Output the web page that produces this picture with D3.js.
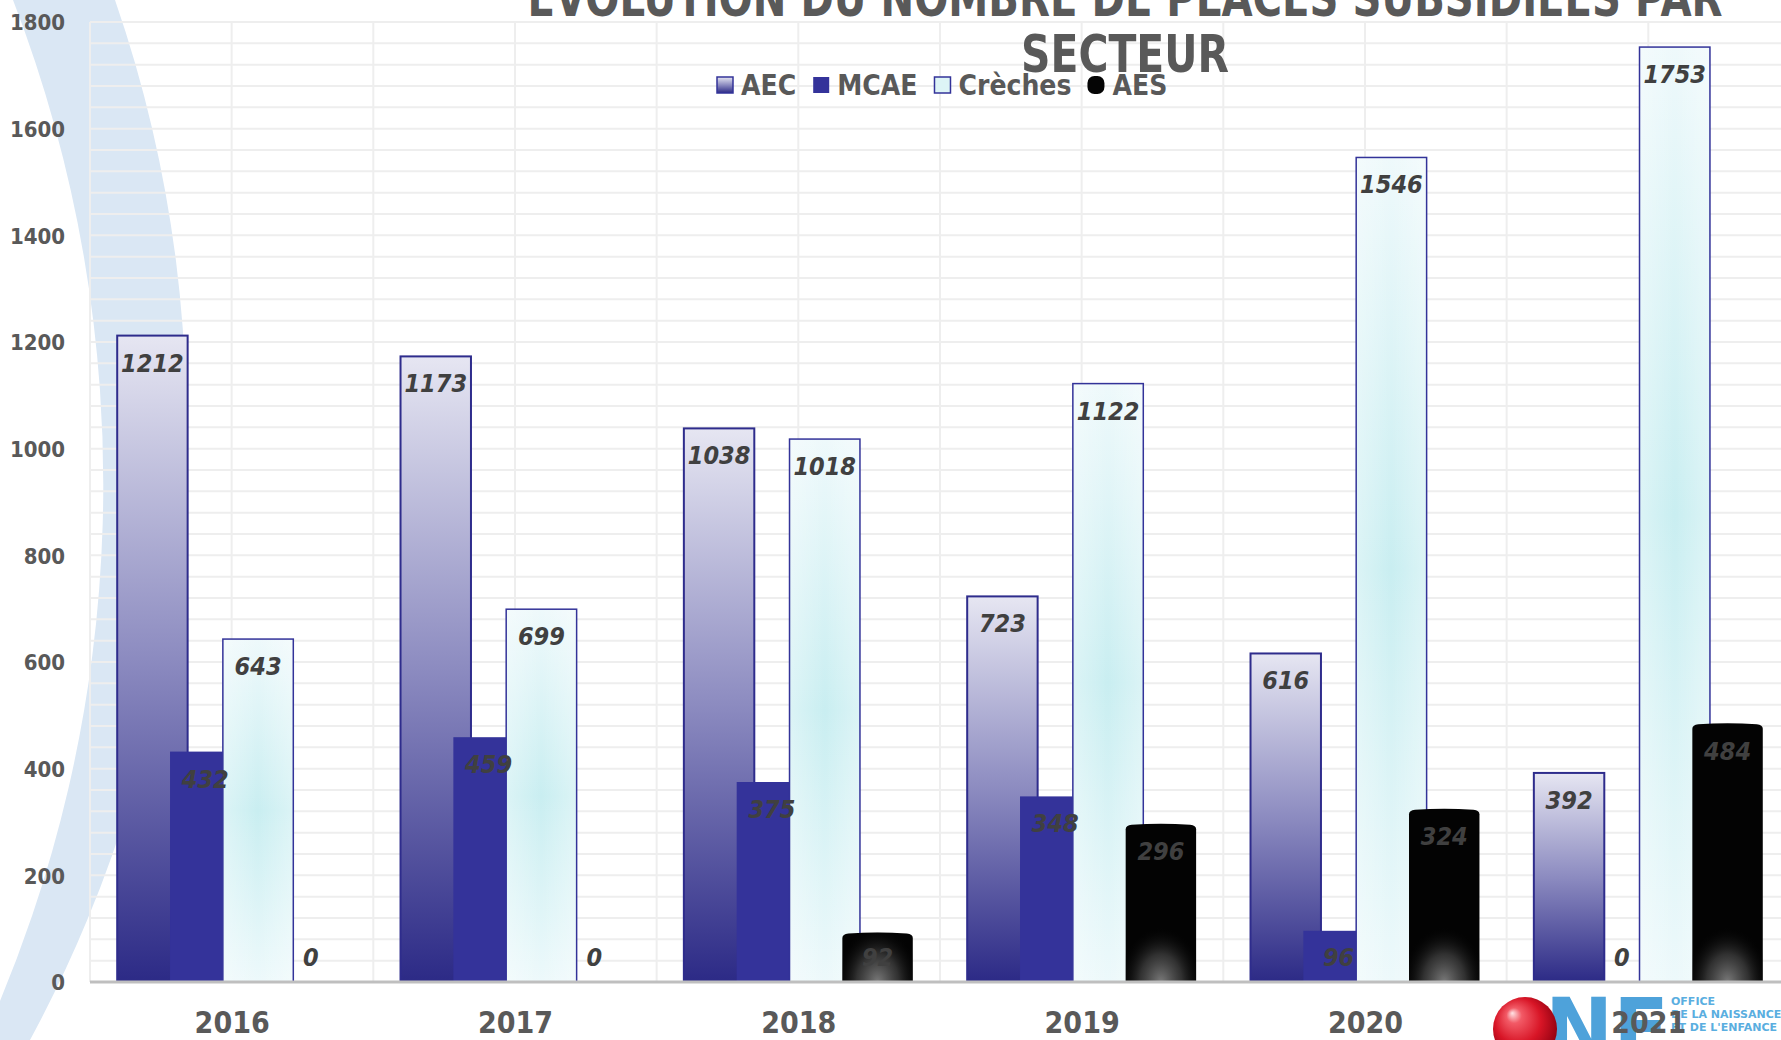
<!DOCTYPE html>
<html lang="fr">
<head>
    <meta charset="UTF-8">
    <title>Évolution du nombre de places subsidiées par secteur</title>
    <style>
        html, body {
            margin: 0;
            padding: 0;
            background-color: #ffffff;
            overflow: hidden;
        }
        svg { display: block; }
        .cond {
            font-family: "DejaVu Sans Condensed", "DejaVu Sans", sans-serif;
            font-stretch: condensed;
        }
    </style>
</head>
<body>
    <div id="chart"></div>
    <script src="https://d3js.org/d3.v7.min.js"></script>
    <script>
        // DATA
        const years = ["2016", "2017", "2018", "2019", "2020", "2021"];
        const aec = [1212, 1173, 1038, 723, 616, 392];
        const mcae = [432, 459, 375, 348, 96, 0];
        const creches = [643, 699, 1018, 1122, 1546, 1753];
        const aes = [0, 0, 92, 296, 324, 484];
        const seriesNames = ["AEC", "MCAE", "Crèches", "AES"];
        const yTicks = [0, 200, 400, 600, 800, 1000, 1200, 1400, 1600, 1800];
        const titleLines = ["ÉVOLUTION DU NOMBRE DE PLACES SUBSIDIÉES PAR", "SECTEUR"];
        const logoLines = ["OFFICE", "DE LA NAISSANCE", "ET DE L'ENFANCE"];

        const width = 1781, height = 1040;
        const plotLeft = 90, plotTop = 22, baseY = 982;
        const catW = 283.33;
        const textCol = "#595959";
        const labelCol = "#404040";

        const svg = d3.select("#chart")
            .append("svg")
            .attr("width", width)
            .attr("height", height);

        const defs = svg.append("defs");

        const aecGrad = defs.append("linearGradient")
            .attr("id", "aecGrad")
            .attr("x1", 0).attr("y1", 0).attr("x2", 0).attr("y2", 1);
        aecGrad.append("stop").attr("offset", 0).attr("stop-color", "#e6e6f2");
        aecGrad.append("stop").attr("offset", 0.5).attr("stop-color", "#8c8bc0");
        aecGrad.append("stop").attr("offset", 1).attr("stop-color", "#2c2a86");

        const crGrad = defs.append("linearGradient")
            .attr("id", "crGrad")
            .attr("x1", 0).attr("y1", 0).attr("x2", 0).attr("y2", 1);
        crGrad.append("stop").attr("offset", 0).attr("stop-color", "#eef9fb");
        crGrad.append("stop").attr("offset", 0.5).attr("stop-color", "#c9eef1");
        crGrad.append("stop").attr("offset", 1).attr("stop-color", "#edf9fb");

        const crSide = defs.append("linearGradient")
            .attr("id", "crSide")
            .attr("x1", 0).attr("y1", 0).attr("x2", 1).attr("y2", 0);
        crSide.append("stop").attr("offset", 0).attr("stop-color", "#ffffff").attr("stop-opacity", 0.35);
        crSide.append("stop").attr("offset", 0.5).attr("stop-color", "#ffffff").attr("stop-opacity", 0);
        crSide.append("stop").attr("offset", 1).attr("stop-color", "#ffffff").attr("stop-opacity", 0.35);

        const glow = defs.append("radialGradient").attr("id", "aesGlow");
        glow.append("stop").attr("offset", 0).attr("stop-color", "#7a7a7a").attr("stop-opacity", 1);
        glow.append("stop").attr("offset", 0.5).attr("stop-color", "#3c3c3c").attr("stop-opacity", 0.8);
        glow.append("stop").attr("offset", 1).attr("stop-color", "#000000").attr("stop-opacity", 0);

        const ball = defs.append("radialGradient")
            .attr("id", "ballGrad")
            .attr("cx", 0.45).attr("cy", 0.45).attr("r", 0.6)
            .attr("fx", 0.3).attr("fy", 0.25);
        ball.append("stop").attr("offset", 0).attr("stop-color", "#ffe4e6");
        ball.append("stop").attr("offset", 0.2).attr("stop-color", "#f25a66");
        ball.append("stop").attr("offset", 0.6).attr("stop-color", "#d81526");
        ball.append("stop").attr("offset", 1).attr("stop-color", "#8c0010");

        // BACKGROUND SWOOSH
        svg.append("path")
            .attr("d", "M13,0 L115,0 A1294.5,1294.5 0 0 1 30,1040 L-17,1040 A1343.9,1343.9 0 0 0 13,0 Z")
            .attr("fill", "#dae7f4");

        // SCALES
        const x = d3.scaleBand()
            .domain(years)
            .range([plotLeft, plotLeft + catW * years.length])
            .paddingInner(0.192)
            .paddingOuter(0.096);

        const y = d3.scaleLinear()
            .domain([0, 1800])
            .range([baseY, plotTop]);

        const barW = x.bandwidth() / 3.25;
        const barStep = barW * 0.75;

        // GRIDLINES
        const grid = svg.append("g");
        grid.selectAll("line.h")
            .data(d3.range(0, 1801, 40))
            .enter()
            .append("line")
            .attr("x1", plotLeft).attr("x2", width)
            .attr("y1", d => y(d)).attr("y2", d => y(d))
            .attr("stroke", "#eeeeee")
            .attr("stroke-width", 2);

        grid.selectAll("line.v")
            .data(d3.range(0, years.length * 2 + 1))
            .enter()
            .append("line")
            .attr("x1", d => plotLeft + d * catW / 2)
            .attr("x2", d => plotLeft + d * catW / 2)
            .attr("y1", plotTop).attr("y2", baseY)
            .attr("stroke", "#eeeeee")
            .attr("stroke-width", 2);

        // BARS
        const series = [aec, mcae, creches, aes];
        const rows = series.map((vals, s) => vals.map((v, i) => ({
            s: s, year: years[i], value: v,
            x: x(years[i]) + s * barStep
        })));

        const bars = svg.append("g");

        bars.selectAll("rect.aec")
            .data(rows[0]).enter()
            .append("rect")
            .attr("x", d => d.x)
            .attr("y", d => y(d.value))
            .attr("width", barW)
            .attr("height", d => baseY - y(d.value))
            .attr("fill", "url(#aecGrad)")
            .attr("stroke", "#2e2c8c")
            .attr("stroke-width", 2);

        bars.selectAll("rect.mcae")
            .data(rows[1].filter(d => d.value > 0)).enter()
            .append("rect")
            .attr("x", d => d.x)
            .attr("y", d => y(d.value))
            .attr("width", barW)
            .attr("height", d => baseY - y(d.value))
            .attr("fill", "#34339a");

        const crG = bars.selectAll("g.cr")
            .data(rows[2]).enter()
            .append("g");
        crG.append("rect")
            .attr("x", d => d.x)
            .attr("y", d => y(d.value))
            .attr("width", barW)
            .attr("height", d => baseY - y(d.value))
            .attr("fill", "url(#crGrad)");
        crG.append("rect")
            .attr("x", d => d.x)
            .attr("y", d => y(d.value))
            .attr("width", barW)
            .attr("height", d => baseY - y(d.value))
            .attr("fill", "url(#crSide)")
            .attr("stroke", "#333399")
            .attr("stroke-width", 1.5);

        // AES: black "cylinder" with a glow at its foot, clipped to the bar
        const aesRows = rows[3].filter(d => d.value > 0);
        const aesPath = d => {
            const x0 = d.x, x1 = d.x + barW, t = y(d.value);
            return `M${x0},${baseY} L${x0},${t + 5} Q${x0},${t + 1} ${x0 + 6},${t + 0.5}` +
                ` Q${x0 + barW / 2},${t - 1.5} ${x1 - 6},${t + 0.5} Q${x1},${t + 1} ${x1},${t + 5} L${x1},${baseY} Z`;
        };
        const aesG = bars.selectAll("g.aes")
            .data(aesRows).enter()
            .append("g");
        aesG.append("clipPath")
            .attr("id", (d, i) => "aesClip" + i)
            .append("path")
            .attr("d", aesPath);
        aesG.append("path")
            .attr("d", aesPath)
            .attr("fill", "#030303");
        aesG.append("ellipse")
            .attr("clip-path", (d, i) => `url(#aesClip${i})`)
            .attr("cx", d => d.x + barW / 2)
            .attr("cy", baseY)
            .attr("rx", barW * 0.6)
            .attr("ry", 56)
            .attr("fill", "url(#aesGlow)");

        // DATA LABELS
        svg.append("g")
            .selectAll("text")
            .data(rows.flat()).enter()
            .append("text")
            .attr("class", "cond")
            .attr("x", d => d.x + barW / 2)
            .attr("y", d => Math.min(y(d.value) + 36, baseY - 16))
            .attr("text-anchor", "middle")
            .style("font-size", "25px")
            .style("font-weight", "bold")
            .style("font-style", "italic")
            .style("fill", labelCol)
            .text(d => d.value);

        // AXES
        const yAxis = svg.append("g")
            .attr("transform", `translate(${plotLeft - 22},0)`)
            .call(d3.axisLeft(y).tickValues(yTicks).tickSize(0).tickFormat(d3.format("d")));
        yAxis.select(".domain").remove();
        yAxis.selectAll("text")
            .attr("class", "cond")
            .attr("dy", "0.36em")
            .style("font-size", "22px")
            .style("font-weight", "bold")
            .style("fill", textCol);

        svg.append("line")
            .attr("x1", plotLeft).attr("x2", width)
            .attr("y1", baseY).attr("y2", baseY)
            .attr("stroke", "#bfbfbf")
            .attr("stroke-width", 3);

        // LOGO
        const logo = svg.append("g");
        logo.append("text")
            .attr("x", 1545).attr("y", 1058)
            .attr("textLength", 124)
            .attr("lengthAdjust", "spacingAndGlyphs")
            .style("font-family", "'DejaVu Sans', sans-serif")
            .style("font-weight", "bold")
            .style("font-size", "84px")
            .style("fill", "#4ea2da")
            .text("NE");
        logo.append("circle")
            .attr("cx", 1525).attr("cy", 1029).attr("r", 32)
            .attr("fill", "url(#ballGrad)");
        logo.selectAll("text.small")
            .data(logoLines).enter()
            .append("text")
            .attr("x", 1671)
            .attr("y", (d, i) => 1005 + i * 13)
            .style("font-family", "'DejaVu Sans', sans-serif")
            .style("font-weight", "bold")
            .style("font-size", "11px")
            .style("fill", "#5aaee0")
            .text(d => d);

        const xAxis = svg.append("g")
            .attr("transform", `translate(0,${baseY})`)
            .call(d3.axisBottom(d3.scalePoint().domain(years)
                .range([plotLeft + catW / 2, plotLeft + catW * (years.length - 0.5)])).tickSize(0));
        xAxis.select(".domain").remove();
        xAxis.selectAll("text")
            .attr("class", "cond")
            .attr("y", 51)
            .attr("dy", 0)
            .style("font-size", "30px")
            .style("font-weight", "bold")
            .style("fill", textCol);

        // TITLE
        svg.selectAll("text.title")
            .data(titleLines).enter()
            .append("text")
            .attr("class", "cond")
            .attr("x", 1125)
            .attr("y", (d, i) => 16 + i * 56)
            .attr("text-anchor", "middle")
            .attr("textLength", (d, i) => i === 0 ? 1195 : 208)
            .attr("lengthAdjust", "spacingAndGlyphs")
            .style("font-size", "51px")
            .style("font-weight", "bold")
            .style("fill", textCol)
            .text(d => d);

        // LEGEND
        const legend = svg.append("g").attr("transform", "translate(716,85)");
        let lx = 0;
        seriesNames.forEach((name, i) => {
            const item = legend.append("g").attr("transform", `translate(${lx},0)`);
            if (i === 3) {
                item.append("rect").attr("x", 0).attr("y", -9).attr("width", 17).attr("height", 18)
                    .attr("rx", 7).attr("fill", "#050505");
            } else {
                item.append("rect").attr("x", 1).attr("y", -8).attr("width", 16).attr("height", 16)
                    .attr("fill", i === 0 ? "url(#aecGrad)" : i === 1 ? "#34339a" : "#ddf4f6")
                    .attr("stroke", i === 1 ? "none" : "#333399")
                    .attr("stroke-width", 1.5);
            }
            const t = item.append("text")
                .attr("class", "cond")
                .attr("x", 25)
                .attr("y", 10)
                .style("font-size", "28px")
                .style("font-weight", "bold")
                .style("fill", textCol)
                .text(name);
            lx += 25 + t.node().getComputedTextLength() + 16;
        });
    </script>
</body>
</html>
